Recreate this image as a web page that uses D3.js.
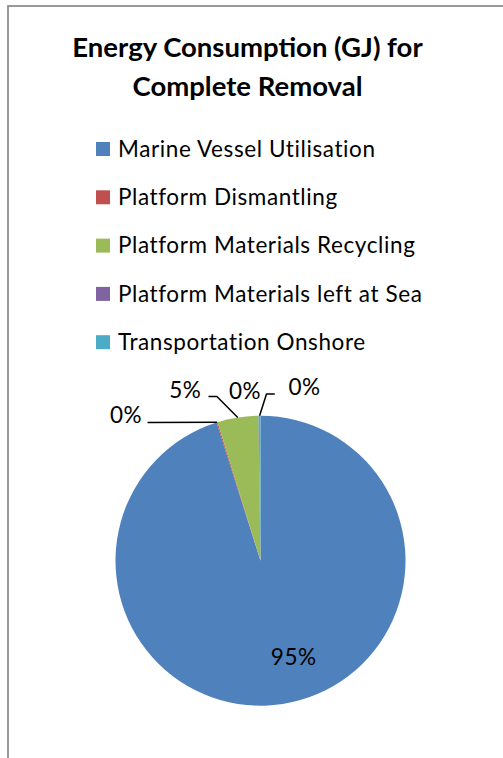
<!DOCTYPE html>
<html>
<head>
    <title>Energy Consumption pie</title>
    <script src="https://cdn.jsdelivr.net/npm/d3@7"></script>
    <style>
        body {
            margin: 0;
            padding: 0;
            background-color: white;
        }
        text {
            font-family: Lato, "Open Sans", sans-serif;
            fill: black;
        }
        .title {
            font-size: 27.5px;
            font-weight: bold;
        }
        .legend-label, .slice-label {
            font-size: 22.5px;
            letter-spacing: 0.6px;
        }
    </style>
</head>
<body>
    <div id="chart"></div>
    <script>
        // data (shares of total, in %)
        const categories = [
            "Marine Vessel Utilisation",
            "Platform Dismantling",
            "Platform Materials Recycling",
            "Platform Materials left at Sea",
            "Transportation Onshore"
        ];
        const shares = [95.1, 0.12, 4.55, 0.03, 0.2];
        const colors = ["#4F81BD", "#C0504D", "#9BBB59", "#8064A2", "#4BACC6"];
        const titleLines = ["Energy Consumption (GJ) for", "Complete Removal"];

        const width = 503, height = 758;
        const cx = 260.5, cy = 560.7, radius = 145;

        const svg = d3.select("#chart")
            .append("svg")
            .attr("width", width)
            .attr("height", height);

        // chart frame (clipped by the window on the right and bottom)
        svg.append("rect")
            .attr("x", 8)
            .attr("y", 6)
            .attr("width", 700)
            .attr("height", 900)
            .attr("fill", "none")
            .attr("stroke", "#8a8a8a")
            .attr("stroke-width", 1.75);

        svg.selectAll(".title")
            .data(titleLines)
            .enter()
            .append("text")
            .attr("class", "title")
            .attr("x", 247.5)
            .attr("y", (d, i) => 57 + i * 39)
            .attr("text-anchor", "middle")
            .text(d => d);

        // legend
        const legend = svg.append("g")
            .attr("transform", "translate(96, 142)");

        const items = legend.selectAll(".item")
            .data(categories)
            .enter()
            .append("g")
            .attr("class", "item")
            .attr("transform", (d, i) => `translate(0, ${i * 48.3})`);

        items.append("rect")
            .attr("width", 14)
            .attr("height", 14)
            .attr("fill", (d, i) => colors[i]);

        items.append("text")
            .attr("class", "legend-label")
            .attr("x", 22)
            .attr("y", 14.7)
            .text(d => d);

        // pie
        const total = d3.sum(shares);
        const pie = d3.pie().sort(null).value(d => d);
        const arcs = pie(shares);
        const arc = d3.arc().innerRadius(0).outerRadius(radius);
        const edge = d3.arc().innerRadius(radius).outerRadius(radius);

        const g = svg.append("g")
            .attr("transform", `translate(${cx}, ${cy})`);

        g.selectAll(".slice")
            .data(arcs)
            .enter()
            .append("path")
            .attr("class", "slice")
            .attr("d", arc)
            .attr("fill", (d, i) => colors[i]);

        const pct = d => Math.round(d.value / total * 100) + "%";

        // label placement relative to each slice's edge point:
        // text centre (tx, ty = baseline) and leader elbow, null = no leader
        const labelLayout = [
            null,
            { tx: -91, ty: 0.5, leader: [[-69.5, 0.2]] },
            { tx: -52.5, ty: -19.3, leader: [[-29.3, -20.9], [-20.9, -20.9]] },
            { tx: -13.5, ty: -17.2, leader: null },
            { tx: 45, ty: -20.7, leader: [[15.2, -21.7], [6.9, -21.7]] }
        ];

        arcs.forEach((d, i) => {
            const layout = labelLayout[i];
            if (!layout) {
                // large slice: label inside
                const p = d3.pointRadial(161 * Math.PI / 180, 102);
                g.append("text")
                    .attr("class", "slice-label")
                    .attr("x", p[0])
                    .attr("y", p[1] + 8)
                    .attr("text-anchor", "middle")
                    .text(pct(d));
                return;
            }
            const a = edge.centroid(d);
            g.append("text")
                .attr("class", "slice-label")
                .attr("x", a[0] + layout.tx)
                .attr("y", a[1] + layout.ty)
                .attr("text-anchor", "middle")
                .text(pct(d));
            if (layout.leader) {
                const pts = layout.leader.map(p => [a[0] + p[0], a[1] + p[1]]);
                pts.push(a);
                g.append("path")
                    .attr("d", d3.line()(pts))
                    .attr("fill", "none")
                    .attr("stroke", "black")
                    .attr("stroke-width", 1.5);
            }
        });
    </script>
</body>
</html>
